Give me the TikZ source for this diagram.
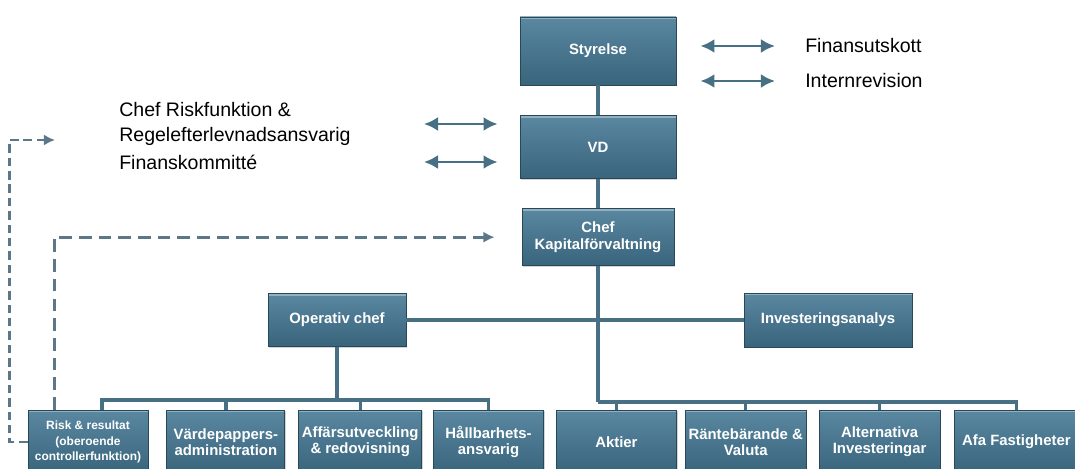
\documentclass[tikz,border=0pt]{standalone}
\usepackage{fontspec}
\setmainfont{Liberation Sans}
\usepackage{xcolor}
\usetikzlibrary{shapes,arrows.meta,positioning,shadows}

\definecolor{boxtop}{RGB}{90,136,160}
\definecolor{boxbot}{RGB}{56,100,124}
\definecolor{boxedge}{RGB}{40,72,90}
\definecolor{linkcol}{RGB}{72,112,133}
\definecolor{dashcol}{RGB}{92,120,136}

\begin{document}
\begin{tikzpicture}[
    node distance=0.75cm,
    box/.style={rectangle, draw=boxedge, line width=0.6pt, top color=boxtop, bottom color=boxbot, text=white, align=center, inner sep=1pt, font=\bfseries\fontsize{10.6}{11.5}\selectfont,
        drop shadow={shadow xshift=0.8pt, shadow yshift=-0.8pt, opacity=0.35},
        path picture={\draw[white, opacity=0.35, line width=3pt] (path picture bounding box.north west) -- (path picture bounding box.north east);}},
    low/.style={box, minimum height=1.6cm},
    sidetext/.style={inner sep=0pt, align=left, font=\fontsize{13.9}{17.8}\selectfont},
    link/.style={draw=linkcol, line width=2.8pt},
    bus/.style={draw=linkcol, line width=2.4pt},
    twoway/.style={{Latex[length=10pt,width=10pt]}-{Latex[length=10pt,width=10pt]}, draw=linkcol, line width=2pt},
    dashline/.style={-{Latex[length=8pt,width=8pt]}, draw=dashcol, line width=2pt, dash pattern=on 9pt off 5pt}
]
    \useasboundingbox (0,0) rectangle (26.875,-11.725);

    % Board and management
    \node[box, minimum width=3.9cm, minimum height=1.7cm] (styrelse) at (14.95,-1.275) {Styrelse};
    \node[box, minimum width=3.9cm, minimum height=1.575cm, below=0.75cm of styrelse] (vd) {VD};
    \node[box, minimum width=3.8cm, minimum height=1.425cm, below=0.725cm of vd] (chef) {Chef\\Kapitalförvaltning};

    % Side texts
    \node[sidetext, anchor=west] (finutsk) at (20.125,-1.15) {Finansutskott};
    \node[sidetext, anchor=west] (intrev) at (20.125,-2.025) {Internrevision};
    \node[sidetext, anchor=west] (riskchef) at (2.975,-3.1) {Chef Riskfunktion \&\\Regelefterlevnadsansvarig};
    \node[sidetext, anchor=west] (finkom) at (2.975,-4.05) {Finanskommitté};

    % Middle level
    \node[box, minimum width=3.45cm, minimum height=1.325cm] (opchef) at (8.425,-8.0) {Operativ chef};
    \node[box, minimum width=4.2cm, minimum height=1.35cm] (invest) at (20.7,-8.0) {Investeringsanalys};

    % Bottom row
    \node[low, minimum width=3.0cm, font=\bfseries\fontsize{8.5}{11}\selectfont] (risk) at (2.2,-11.05) {Risk \& resultat\\(oberoende\\controllerfunktion)};
    \node[low, minimum width=2.95cm, right=0.45cm of risk] (vardep) {Värdepappers-\\administration};
    \node[low, minimum width=3.075cm, right=0.325cm of vardep] (affars) {Affärsutveckling\\\& redovisning};
    \node[low, minimum width=2.75cm, right=0.275cm of affars] (hallb) {Hållbarhets-\\ansvarig};
    \node[low, minimum width=3.0cm, right=0.3cm of hallb] (aktier) {Aktier};
    \node[low, minimum width=3.025cm, right=0.2cm of aktier] (ranteb) {Räntebärande \&\\Valuta};
    \node[low, minimum width=3.025cm, right=0.3cm of ranteb] (altinv) {Alternativa\\Investeringar};
    \node[low, minimum width=3.075cm, right=0.35cm of altinv] (afa) {Afa Fastigheter};

    % Connections
    \coordinate (lbus) at (0,-10.0);
    \coordinate (rbus) at (0,-10.05);
    \draw[link] (styrelse) -- (vd);
    \draw[link] (vd) -- (chef);
    \draw[link] (opchef) -- (invest);
    \draw[link] (opchef) -- (opchef |- lbus);
    \draw[bus] ([xshift=0.35cm]risk.north) |- (hallb.north |- lbus) -- (hallb.north);
    \foreach \n in {vardep,affars} \draw[bus] (\n.north) -- (\n.north |- lbus);
    \draw[link] (chef) -- (chef |- rbus);
    \draw[bus] (chef |- rbus) -| (afa.north);
    \foreach \n in {aktier,ranteb,altinv} \draw[bus] (\n.north) -- (\n.north |- rbus);

    % Two-way links
    \draw[twoway] ([xshift=0.6cm]styrelse.east |- finutsk.west) -- ([xshift=-0.75cm]finutsk.west);
    \draw[twoway] ([xshift=0.6cm]styrelse.east |- intrev.west) -- ([xshift=-0.75cm]intrev.west);
    \draw[twoway] ([xshift=1.825cm]riskchef.east) -- ([xshift=-0.55cm]vd.west |- riskchef.east);
    \draw[twoway] ([xshift=1.825cm]riskchef.east |- finkom.east) -- ([xshift=-0.55cm]vd.west |- finkom.east);

    % Dashed reporting lines
    \coordinate (riskout) at (1.375,-3.5);
    \draw[dashline, dash pattern=on 6pt off 3.5pt] (risk.west) -- ++(-0.45,0) |- (riskout);
    \draw[dashline] ([xshift=0.675cm]risk.north west) |- ([xshift=-0.675cm]chef.west);
\end{tikzpicture}
\end{document}
